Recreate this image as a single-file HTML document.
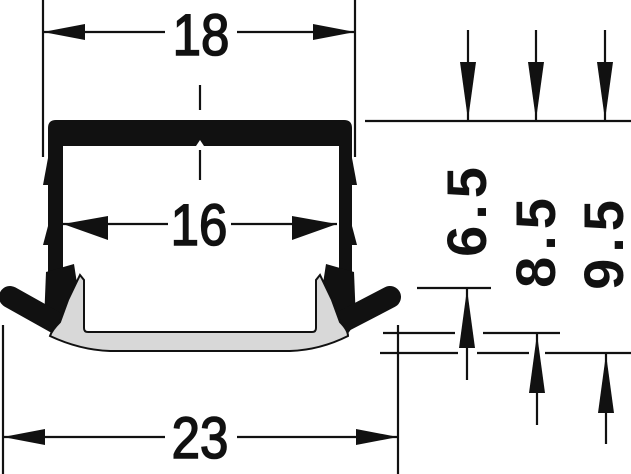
<!DOCTYPE html>
<html><head><style>html,body{margin:0;padding:0;background:#fff}svg{display:block}</style></head>
<body>
<svg width="631" height="474" viewBox="0 0 631 474" xmlns="http://www.w3.org/2000/svg" font-family="Liberation Sans, sans-serif">
<g stroke="#111" stroke-width="2.2" fill="none">
<line x1="43" y1="0" x2="43" y2="157"/><line x1="355" y1="0" x2="355" y2="157"/>
<line x1="43" y1="32" x2="165" y2="32"/><line x1="237" y1="32" x2="355" y2="32"/>
<line x1="200" y1="85" x2="200" y2="110"/><line x1="200" y1="150" x2="200" y2="180"/>
<line x1="63" y1="224" x2="168" y2="224"/><line x1="231" y1="224" x2="337" y2="224"/>
<line x1="3" y1="325" x2="3" y2="474"/><line x1="398" y1="325" x2="398" y2="474"/>
<line x1="3" y1="437" x2="165" y2="437"/><line x1="237" y1="437" x2="398" y2="437"/>
<line x1="365" y1="121" x2="631" y2="121"/>
<line x1="468" y1="30" x2="468" y2="121"/><line x1="536" y1="30" x2="536" y2="121"/><line x1="605" y1="30" x2="605" y2="121"/>
<line x1="417" y1="288" x2="491" y2="288"/>
<line x1="383" y1="333" x2="455" y2="333"/><line x1="483" y1="333" x2="560" y2="333"/>
<line x1="380" y1="353" x2="458" y2="353"/><line x1="477" y1="353" x2="529" y2="353"/><line x1="545" y1="353" x2="631" y2="353"/>
<line x1="467" y1="288" x2="467" y2="380"/><line x1="537" y1="333" x2="537" y2="425"/><line x1="606" y1="353" x2="606" y2="444"/>
</g>
<g fill="#111">
<polygon points="43,32 85,24 85,40"/><polygon points="355,32 313,24 313,40"/>
<polygon points="63,224 108,216 108,240"/><polygon points="337,224 292,216 292,240"/>
<polygon points="3,437 45,429 45,445"/><polygon points="398,437 356,429 356,445"/>
<polygon points="468,120 460,62 476,62"/><polygon points="536,120 528,62 544,62"/><polygon points="605,120 597,62 613,62"/>
<polygon points="467,289 459,348 475,348"/><polygon points="537,334 529,393 545,393"/><polygon points="606,354 598,413 614,413"/>
<path d="M56,120 H344 Q352,120 352,128 V300 H339 V146 H204 L200,140 L196,146 H63 V300 H48 V128 Q48,120 56,120 Z"/>
<polygon points="48,158 43,185 48,185"/><polygon points="48,226 43,245 48,245"/>
<polygon points="352,158 357,185 352,185"/><polygon points="352,226 357,245 352,245"/>
<path d="M46,272 L74,264 L78,290 L72,332 L55,338 L44,322 Z"/>
<path d="M354,272 L326,264 L322,290 L328,332 L345,338 L356,322 Z"/>
<line x1="10" y1="297" x2="60" y2="325" stroke="#111" stroke-width="22" stroke-linecap="round"/>
<line x1="390" y1="297" x2="342" y2="322" stroke="#111" stroke-width="22" stroke-linecap="round"/>
</g>
<path d="M80,275 L84,280 L84,328 Q84,332 88,332 H312 Q316,332 316,328 V280 L320,275 L332,300 L340,322 Q348,330 348,336 Q320,350 290,351 H110 Q80,350 50,336 Q52,330 60,322 L68,300 Z" fill="#d8d8d8" stroke="#111" stroke-width="2"/>
<g font-size="58" fill="#111" text-anchor="middle" stroke="#111" stroke-width="1.6">
<text transform="translate(201,55) scale(0.88,1)">18</text>
<text transform="translate(199,245) scale(0.88,1)">16</text>
<text transform="translate(200,458) scale(0.88,1)">23</text>
</g>
<g font-size="56" fill="#111" text-anchor="middle" font-weight="bold">
<text transform="translate(486,209) rotate(-90)" letter-spacing="6">6.5</text>
<text transform="translate(555,240) rotate(-90)" letter-spacing="6">8.5</text>
<text transform="translate(623,242) rotate(-90)" letter-spacing="6">9.5</text>
</g>
</svg>
</body></html>
